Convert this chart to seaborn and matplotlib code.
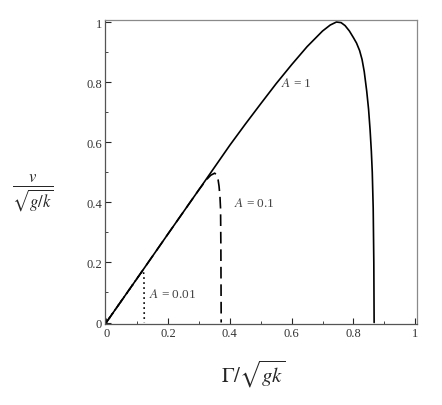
import seaborn as sns
import matplotlib.pyplot as plt
import pandas as pd

# curves: (x = Gamma/sqrt(gk), y = v/sqrt(g/k))
a1_x = [0, 0.1, 0.2, 0.3, 0.4, 0.45, 0.5, 0.55, 0.6, 0.65, 0.7, 0.725, 0.745,
        0.76, 0.773, 0.787, 0.8, 0.81, 0.82, 0.828, 0.835, 0.843, 0.849, 0.854,
        0.858, 0.861, 0.864, 0.866, 0.867]
a1_y = [0, 0.147, 0.295, 0.442, 0.59, 0.66, 0.728, 0.795, 0.858, 0.918, 0.97, 0.99, 1.0,
        0.998, 0.988, 0.97, 0.948, 0.93, 0.905, 0.875, 0.835, 0.77, 0.71, 0.64,
        0.57, 0.5, 0.38, 0.2, 0.0]

a01_x = [0, 0.1, 0.2, 0.3, 0.325, 0.338, 0.351, 0.358, 0.362, 0.365, 0.368, 0.370,
         0.371, 0.372]
a01_y = [0, 0.147, 0.295, 0.442, 0.476, 0.49, 0.497, 0.49, 0.475, 0.454, 0.42, 0.377,
         0.25, 0.0]

a001_x = [0, 0.1, 0.113, 0.119, 0.122, 0.123]
a001_y = [0, 0.147, 0.166, 0.172, 0.16, 0.0]

labels = ['$A$ = 1', '$A$ = 0.1', '$A$ = 0.01']
label_pos = [(0.615, 0.8), (0.479, 0.399), (0.216, 0.097)]
ticks = [0, 0.2, 0.4, 0.6, 0.8, 1]
tick_labels = ['0', '0.2', '0.4', '0.6', '0.8', '1']

sns.set_style('ticks')
plt.rcParams['font.family'] = ['Liberation Serif', 'DejaVu Serif']
plt.rcParams['mathtext.fontset'] = 'stix'

fig = plt.figure(figsize=(4.42, 4.06), dpi=100)
ax = fig.add_axes([0.2376, 0.1995, 0.706, 0.749])

curves = [(a1_x, a1_y, '-'), (a01_x, a01_y, (0, (7, 3.5))), (a001_x, a001_y, (0, (1, 2)))]
for xs, ys, ls in curves:
    df = pd.DataFrame({'x': xs, 'y': ys})
    sns.lineplot(data=df, x='x', y='y', sort=False, estimator=None,
                 color='black', linewidth=1.2, linestyle=ls, ax=ax)

for txt, (tx, ty) in zip(labels, label_pos):
    ax.text(tx, ty, txt, ha='center', va='center', fontsize=9.5, color='#444444')

ax.set_xlim(-0.004, 1.006)
ax.set_ylim(-0.005, 1.007)
ax.set_xticks(ticks)
ax.set_xticklabels(tick_labels)
ax.set_yticks(ticks)
ax.set_yticklabels(tick_labels)
ax.set_xticks([0.1, 0.3, 0.5, 0.7, 0.9], minor=True)
ax.set_yticks([0.1, 0.3, 0.5, 0.7, 0.9], minor=True)
ax.tick_params(which='major', direction='in', length=4, width=0.8, labelsize=9,
               labelcolor='#333333', pad=2)
ax.tick_params(which='minor', direction='in', length=2.5, width=0.6)

for side in ['top', 'right']:
    ax.spines[side].set_color('#8a8a8a')
for side in ['left', 'bottom']:
    ax.spines[side].set_color('#555555')
for sp in ax.spines.values():
    sp.set_linewidth(0.9)

ax.set_xlabel('')
ax.set_ylabel('')
fig.text(0.572, 0.077, r'$\Gamma/\sqrt{gk}$', ha='center', va='center', fontsize=15)
fig.text(0.075, 0.525, r'$\frac{v}{\sqrt{g/k}}$', ha='center', va='center', fontsize=17)

fig.savefig('out.png', dpi=100)
